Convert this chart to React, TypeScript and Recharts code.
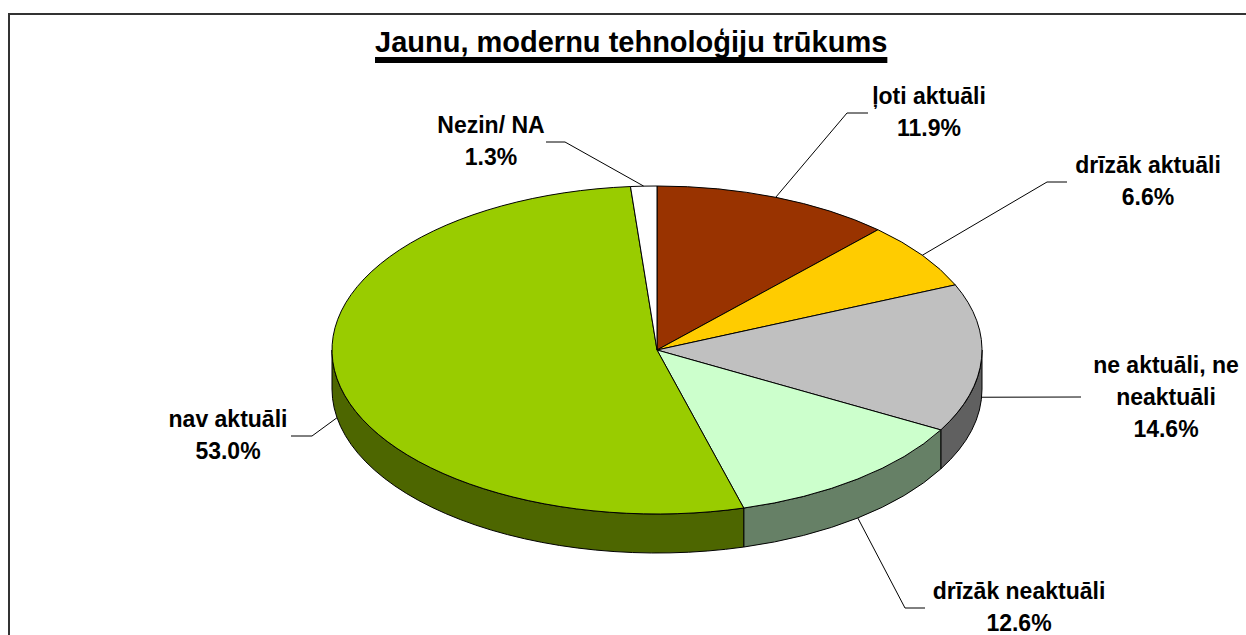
import React from 'react';
import { PieChart, Pie, Cell } from 'recharts';

const CATEGORIES = ['ļoti aktuāli', 'drīzāk aktuāli', 'ne aktuāli, ne\nneaktuāli', 'drīzāk neaktuāli', 'nav aktuāli', 'Nezin/ NA'];
const VALUES = [11.9, 6.6, 14.6, 12.6, 53.0, 1.3];
const TOP_COLORS = ['#993300', '#FFCC00', '#C0C0C0', '#CCFFCC', '#99CC00', '#FFFFFF'];
const SIDE_COLORS = ['#4D1A00', '#806600', '#606060', '#668066', '#4D6600', '#808080'];

// label box centre + first baseline, then the elbow and end of the leader line
const LABEL_X = [929, 1148, 1166, 1019, 228, 491];
const LABEL_Y = [104, 173, 373, 599, 427, 133];
const ELBOW = [[847, 113], [1047, 182], [1081, 397], [905, 608], [312, 436], [565, 142]];
const LEADER_END = [[868, 113], [1067, 182], [1081, 397], [925, 608], [291, 436], [546, 142]];

const TITLE = 'Jaunu, modernu tehnoloģiju trūkums';
const CX = 657;
const CY = 350;
const RX = 325;
const RY = 164;
const DEPTH = 39;
const LINE_HEIGHT = 32;
const FONT = '"Liberation Sans", Arial, sans-serif';

const data = CATEGORIES.map((name, i) => ({ name, value: VALUES[i] }));

// recharts angles are math degrees; turn them into clockwise-from-top and project on the ellipse
const clock = (angle: number) => 90 - angle;
const px = (cx: number, t: number, rx: number) => cx + rx * Math.sin((t * Math.PI) / 180);
const py = (cy: number, t: number, ry: number) => cy - ry * Math.cos((t * Math.PI) / 180);

const TopSlice = (props: any) => {
  const { cx, cy, outerRadius, startAngle, endAngle, fill } = props;
  const ry = (outerRadius * RY) / RX;
  const t0 = clock(startAngle);
  const t1 = clock(endAngle);
  const large = t1 - t0 > 180 ? 1 : 0;
  const d = `M${cx},${cy} L${px(cx, t0, outerRadius)},${py(cy, t0, ry)} A${outerRadius},${ry} 0 ${large} 1 ${px(cx, t1, outerRadius)},${py(cy, t1, ry)} Z`;
  return <path d={d} fill={fill} stroke="#000" strokeWidth={1} strokeLinejoin="round" />;
};

const SideSlice = (props: any) => {
  const { cx, cy, outerRadius, startAngle, endAngle, fill } = props;
  const ry = (outerRadius * RY) / RX;
  const t0 = Math.max(clock(startAngle), 90);
  const t1 = Math.min(clock(endAngle), 270);
  if (t1 <= t0) return <g />;
  const x0 = px(cx, t0, outerRadius);
  const x1 = px(cx, t1, outerRadius);
  const y0 = py(cy, t0, ry);
  const y1 = py(cy, t1, ry);
  const d = `M${x0},${y0} A${outerRadius},${ry} 0 0 1 ${x1},${y1} L${x1},${y1 + DEPTH} A${outerRadius},${ry} 0 0 0 ${x0},${y0 + DEPTH} Z`;
  return <path d={d} fill={fill} stroke="#000" strokeWidth={1} strokeLinejoin="round" />;
};

const renderLabel = (props: any) => {
  const { cx, cy, outerRadius, midAngle, index, value } = props;
  const ry = (outerRadius * RY) / RX;
  const t = clock(midAngle);
  const sx = px(cx, t, outerRadius);
  const sy = py(cy, t, ry) + (t > 90 && t < 270 ? DEPTH : 0);
  const lines = [...CATEGORIES[index].split('\n'), `${value.toFixed(1)}%`];
  return (
    <g key={index}>
      <polyline
        points={`${sx},${sy} ${ELBOW[index].join(',')} ${LEADER_END[index].join(',')}`}
        fill="none"
        stroke="#000"
        strokeWidth={1}
      />
      <text textAnchor="middle" fontFamily={FONT} fontWeight="bold" fontSize={23} fill="#000">
        {lines.map((line, i) => (
          <tspan key={i} x={LABEL_X[index]} y={LABEL_Y[index] + i * LINE_HEIGHT}>
            {line}
          </tspan>
        ))}
      </text>
    </g>
  );
};

export default function App() {
  return (
    <div style={{ position: 'absolute', left: 0, top: 0, width: 1246, height: 635, overflow: 'hidden', background: '#fff' }}>
      {/* frame runs off the right and bottom of the picture */}
      <div style={{ position: 'absolute', left: 8, top: 13, width: 1400, height: 800, borderTop: '2px solid #333', borderLeft: '2px solid #333' }} />
      <div
        style={{
          position: 'absolute',
          left: 375,
          top: 24,
          width: 514,
          whiteSpace: 'nowrap',
          fontFamily: FONT,
          fontWeight: 'bold',
          fontSize: 29,
          lineHeight: '36px',
          color: '#000',
          textDecoration: 'underline',
          textDecorationThickness: 6,
          textUnderlineOffset: 5,
          textDecorationSkipInk: 'none',
        }}
      >
        {TITLE}
      </div>
      <div style={{ position: 'absolute', left: 0, top: 0 }}>
        <PieChart width={1246} height={635} margin={{ top: 0, right: 0, bottom: 0, left: 0 }}>
          <Pie
            data={data}
            dataKey="value"
            nameKey="name"
            cx={CX}
            cy={CY}
            outerRadius={RX}
            startAngle={90}
            endAngle={-270}
            stroke="none"
            label={false}
            labelLine={false}
            shape={SideSlice}
            isAnimationActive={false}
          >
            {data.map((entry, i) => (
              <Cell key={`side-${entry.name}`} fill={SIDE_COLORS[i]} />
            ))}
          </Pie>
          <Pie
            data={data}
            dataKey="value"
            nameKey="name"
            cx={CX}
            cy={CY}
            outerRadius={RX}
            startAngle={90}
            endAngle={-270}
            label={renderLabel}
            labelLine={false}
            shape={TopSlice}
            isAnimationActive={false}
          >
            {data.map((entry, i) => (
              <Cell key={`top-${entry.name}`} fill={TOP_COLORS[i]} />
            ))}
          </Pie>
        </PieChart>
      </div>
    </div>
  );
}
